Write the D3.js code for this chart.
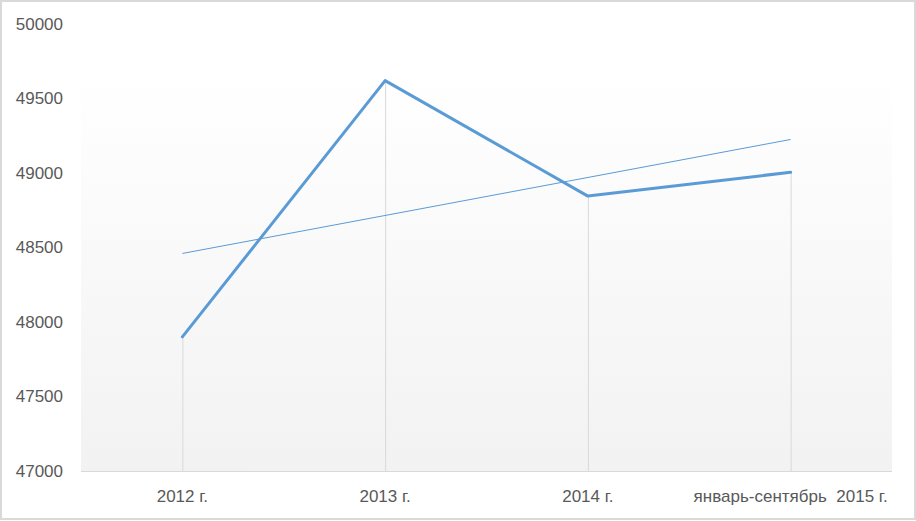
<!DOCTYPE html>
<html>
<head>
<meta charset="utf-8">
<script src="https://cdn.jsdelivr.net/npm/d3@7"></script>
<style>
  body { margin: 0; background: #fff; }
  text { font-family: "Liberation Sans", Arial, sans-serif; fill: #595959; }
</style>
</head>
<body>
<div id="chart"></div>
<script>
// data
const categories = ["2012 г.", "2013 г.", "2014 г.", "январь-сентябрь  2015 г."];
const values = [47900, 49620, 48845, 49005];
const trendEnds = [48460, 49225]; // linear trend, first and last category
const yTicks = [47000, 47500, 48000, 48500, 49000, 49500, 50000];

const W = 916, H = 521;
const m = { left: 81, right: 892, top: 24, bottom: 471 };

const svg = d3.select('#chart').append('svg')
  .attr('width', W)
  .attr('height', H);

// background gradient for plot area
const grad = svg.append('defs').append('linearGradient')
  .attr('id', 'bg')
  .attr('x1', 0).attr('y1', 0).attr('x2', 0).attr('y2', 1);
grad.append('stop').attr('offset', '0%').attr('stop-color', '#ffffff');
grad.append('stop').attr('offset', '100%').attr('stop-color', '#f2f2f2');

svg.append('rect')
  .attr('x', 1).attr('y', 1)
  .attr('width', W - 2).attr('height', H - 3)
  .style('fill', '#fff')
  .style('stroke', '#d9d9d9')
  .style('stroke-width', 2);

const x = d3.scaleBand()
  .domain(categories)
  .range([m.left, m.right]);

const y = d3.scaleLinear()
  .domain([47000, 50000])
  .range([m.bottom, m.top]);

const cx = c => x(c) + x.bandwidth() / 2;

svg.append('rect')
  .attr('x', m.left)
  .attr('y', 75)
  .attr('width', m.right - m.left)
  .attr('height', m.bottom - 75)
  .style('fill', 'url(#bg)');

// drop lines
svg.selectAll('.drop')
  .data(categories)
  .enter()
  .append('line')
  .attr('x1', d => cx(d) + 0.5)
  .attr('x2', d => cx(d) + 0.5)
  .attr('y1', (d, i) => y(values[i]))
  .attr('y2', m.bottom)
  .style('stroke', '#d9d9d9')
  .style('stroke-width', 1);

// x axis line
svg.append('line')
  .attr('x1', m.left).attr('x2', m.right)
  .attr('y1', m.bottom + 0.5).attr('y2', m.bottom + 0.5)
  .style('stroke', '#d9d9d9')
  .style('stroke-width', 1);

// y labels
svg.selectAll('.ylab')
  .data(yTicks)
  .enter()
  .append('text')
  .attr('x', 63)
  .attr('y', d => y(d))
  .attr('dy', '0.35em')
  .attr('text-anchor', 'end')
  .style('font-size', '17px')
  .text(d => d);

// x labels
svg.selectAll('.xlab')
  .data(categories)
  .enter()
  .append('text')
  .attr('x', d => cx(d))
  .attr('y', 496)
  .attr('dy', '0.35em')
  .attr('text-anchor', 'middle')
  .style('font-size', '17px')
  .style('white-space', 'pre')
  .text(d => d);

// trend line
svg.append('line')
  .attr('x1', cx(categories[0]))
  .attr('y1', y(trendEnds[0]))
  .attr('x2', cx(categories[categories.length - 1]))
  .attr('y2', y(trendEnds[1]))
  .style('stroke', '#5b9bd5')
  .style('stroke-width', 1);

// series line
const line = d3.line()
  .x((d, i) => cx(categories[i]))
  .y(d => y(d));

svg.append('path')
  .datum(values)
  .attr('d', line)
  .style('fill', 'none')
  .style('stroke', '#5b9bd5')
  .style('stroke-width', 3)
  .style('stroke-linejoin', 'round')
  .style('stroke-linecap', 'round');
</script>
</body>
</html>
